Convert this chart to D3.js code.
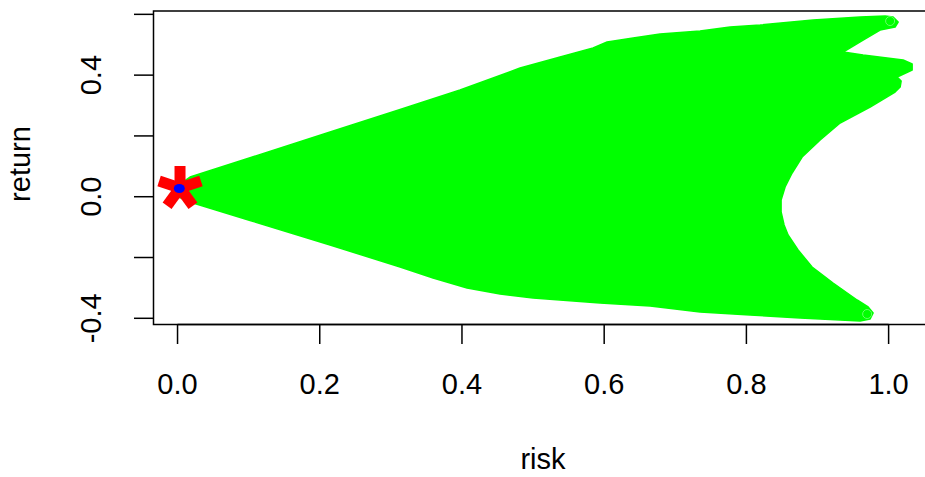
<!DOCTYPE html>
<html><head><meta charset="utf-8">
<script src="https://cdn.jsdelivr.net/npm/d3@7"></script>
<style>body{margin:0;background:#fff}svg{display:block}text{font-family:"Liberation Sans",Arial,sans-serif;fill:#000}</style>
</head><body>
<svg id="chart" width="925" height="477"></svg>
<script>
// Outline of the simulated portfolio cloud (risk, return), traced clockwise
const cloudRisk = [-0.0049,0.0176,0.1020,0.2145,0.3130,0.3973,0.4817,0.5380,0.5844,0.6041,0.6407,0.6786,0.7349,0.7771,0.8193,0.8938,0.9599,0.9951,1.0063,1.0134,1.0091,0.9880,0.9641,0.9360,0.9641,0.9979,1.0204,1.0331,1.0331,1.0120,1.0176,1.0162,1.0091,0.9740,0.9318,0.9037,0.8784,0.8643,0.8544,0.8488,0.8488,0.8530,0.8586,0.8727,0.8924,0.9219,0.9557,0.9712,0.9782,0.9740,0.9599,0.9318,0.8755,0.8052,0.7349,0.6646,0.5942,0.5000,0.4536,0.4072,0.3594,0.3130,0.2145,0.1020,0.0218,-0.0021];
const cloudReturn = [0.0286,0.0648,0.1283,0.2128,0.2868,0.3510,0.4234,0.4595,0.4891,0.5089,0.5220,0.5352,0.5451,0.5582,0.5648,0.5813,0.5911,0.5944,0.5911,0.5747,0.5582,0.5484,0.5155,0.4760,0.4661,0.4562,0.4497,0.4365,0.4168,0.3938,0.3806,0.3609,0.3444,0.2951,0.2424,0.1865,0.1306,0.0780,0.0319,-0.0109,-0.0503,-0.0931,-0.1260,-0.1753,-0.2313,-0.2839,-0.3398,-0.3628,-0.3826,-0.4023,-0.4089,-0.4056,-0.3990,-0.3891,-0.3793,-0.3595,-0.3497,-0.3332,-0.3201,-0.3003,-0.2674,-0.2313,-0.1589,-0.0783,-0.0207,0.0023];
// Extreme simulated points at the tips
const tipRisk = [1.0021, 0.9698];
const tipReturn = [0.5780, -0.3859];
// Minimum-variance portfolio (red asterisk) and blue point
const starRisk = [0.0035];
const starReturn = [0.029];
const dotRisk = [0.0025];
const dotReturn = [0.027];
const xTicks = [0.0, 0.2, 0.4, 0.6, 0.8, 1.0];
const yTicks = [-0.4, -0.2, 0.0, 0.2, 0.4, 0.6];
const yTickLabels = ["-0.4", "", "0.0", "", "0.4", ""];

const svg = d3.select("#chart");
const xs = d3.scaleLinear().domain([-0.0338, 1.08]).range([153.5, 945.5]);
const ys = d3.scaleLinear().domain([0.611, -0.4204]).range([11, 324.5]);

// clip to plot region
svg.append("clipPath").attr("id","clip").append("rect")
  .attr("x",153.5).attr("y",11).attr("width",800).attr("height",313.5);
const plot = svg.append("g").attr("clip-path","url(#clip)");

const pts = cloudRisk.map((r,i)=>[r, cloudReturn[i]]);
plot.append("path").datum(pts)
  .attr("d", d3.line().x(d=>xs(d[0])).y(d=>ys(d[1])).curve(d3.curveLinearClosed))
  .attr("fill","#00FF00").attr("stroke","#00FF00").attr("stroke-width",1.5).attr("stroke-linejoin","round");

plot.selectAll("circle.tip").data(tipRisk).enter().append("circle")
  .attr("class","tip").attr("cx",d=>xs(d)).attr("cy",(d,i)=>ys(tipReturn[i]))
  .attr("r",4.5).attr("fill","none").attr("stroke","#66FF66").attr("stroke-width",1);

// asterisk
const starG = plot.selectAll("g.star").data(starRisk).enter().append("g")
  .attr("transform",(d,i)=>`translate(${xs(d)},${ys(starReturn[i])})`);
[90, 18, 162, 234, 306].forEach(a=>{
  const rad = a*Math.PI/180;
  starG.append("line").attr("x1",0).attr("y1",0)
    .attr("x2",22*Math.cos(rad)).attr("y2",-22*Math.sin(rad))
    .attr("stroke","#FF0000").attr("stroke-width",11).attr("stroke-linecap","butt");
});
plot.selectAll("ellipse.dot").data(dotRisk).enter().append("ellipse")
  .attr("cx",d=>xs(d)).attr("cy",(d,i)=>ys(dotReturn[i]))
  .attr("rx",5.5).attr("ry",4.5).attr("fill","#0000FF");

// box
svg.append("path").attr("d","M945,11H153.5V324.5H945").attr("fill","none").attr("stroke","#000").attr("stroke-width",1.5);

// x axis
const xa = svg.append("g");
xa.append("line").attr("x1",xs(0)).attr("x2",xs(1)).attr("y1",324.5).attr("y2",324.5).attr("stroke","#000").attr("stroke-width",1.5);
xa.selectAll("line.t").data(xTicks).enter().append("line")
  .attr("x1",d=>xs(d)).attr("x2",d=>xs(d)).attr("y1",324.5).attr("y2",344)
  .attr("stroke","#000").attr("stroke-width",1.5);
xa.selectAll("text").data(xTicks).enter().append("text")
  .attr("x",d=>xs(d)).attr("y",394).attr("text-anchor","middle").attr("font-size",29)
  .text(d=>d3.format(".1f")(d));

// y axis
const ya = svg.append("g");
ya.selectAll("line.t").data(yTicks).enter().append("line")
  .attr("x1",134).attr("x2",153.5).attr("y1",d=>ys(d)).attr("y2",d=>ys(d))
  .attr("stroke","#000").attr("stroke-width",1.5);
ya.selectAll("text").data(yTicks).enter().append("text")
  .attr("transform",d=>`translate(101,${ys(d)}) rotate(-90)`)
  .attr("text-anchor","middle").attr("font-size",29)
  .text((d,i)=>yTickLabels[i]);

svg.append("text").attr("x",543).attr("y",469).attr("text-anchor","middle").attr("font-size",29).text("risk");
svg.append("text").attr("transform","translate(30,164) rotate(-90)").attr("text-anchor","middle").attr("font-size",29).text("return");
</script>
</body></html>
